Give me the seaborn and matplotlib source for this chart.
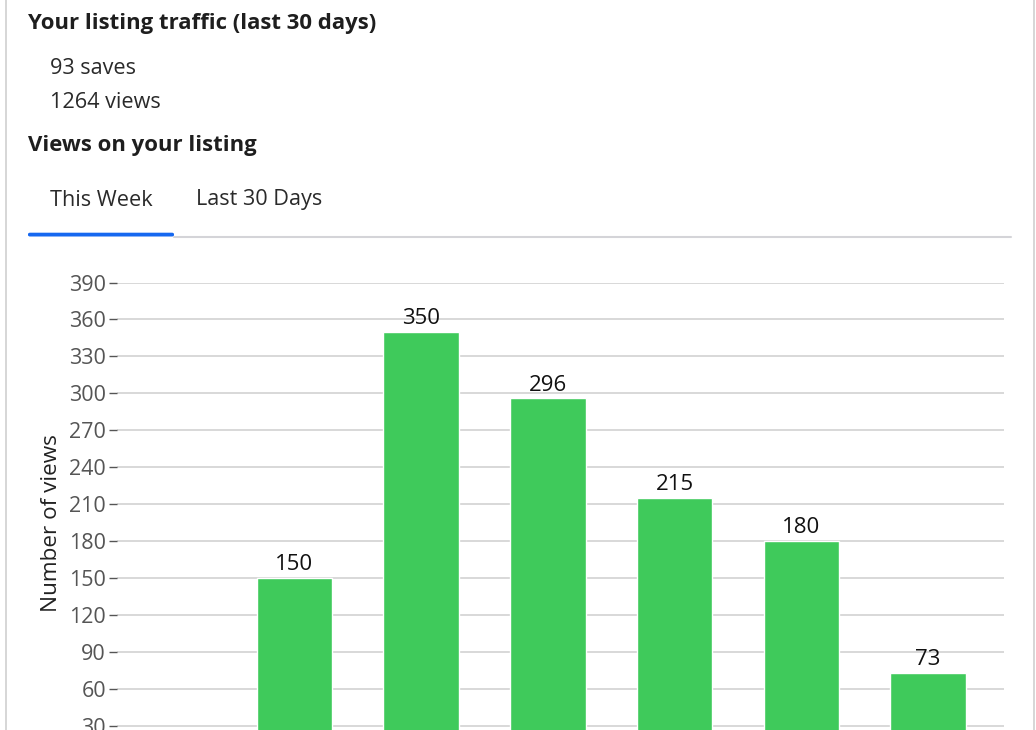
import pandas as pd
import seaborn as sns
import matplotlib.pyplot as plt
from matplotlib.patches import FancyBboxPatch
from matplotlib.lines import Line2D

# DATA ------------------------------------------------------------------------
days = ["Mon", "Tue", "Wed", "Thu", "Fri", "Sat", "Sun"]
views = [0, 150, 350, 296, 215, 180, 73]
y_ticks = [30, 60, 90, 120, 150, 180, 210, 240, 270, 300, 330, 360, 390]
total_saves = 93
total_views = 1264

df = pd.DataFrame({"day": days, "views": views})

# STYLE -----------------------------------------------------------------------
sns.set_style("white")
plt.rcParams["font.family"] = ["Open Sans", "DejaVu Sans"]

W, H = 1036, 730
fig = plt.figure(figsize=(W / 100, H / 100), dpi=100)


def fx(px):
    return px / W


def fy(py):
    return 1 - py / H


# header texts
fig.text(fx(28), fy(24), "Your listing traffic (last 30 days)", fontsize=15.9,
         fontweight="bold", color="#1e1e1e", va="center", ha="left")
fig.text(fx(50), fy(69), f"{total_saves} saves", fontsize=15.6, color="#2a2a2a",
         va="center", ha="left")
fig.text(fx(50), fy(102), f"{total_views} views", fontsize=15.6, color="#2a2a2a",
         va="center", ha="left")
fig.text(fx(28), fy(145), "Views on your listing", fontsize=15.9,
         fontweight="bold", color="#1e1e1e", va="center", ha="left")
fig.text(fx(50), fy(200), "This Week", fontsize=15.6, color="#2a2a2a",
         va="center", ha="left")
fig.text(fx(196), fy(200), "Last 30 Days", fontsize=15.6, color="#2a2a2a",
         va="center", ha="left")

# tab underline
fig.add_artist(Line2D([fx(174), fx(1011)], [fy(236.5), fy(236.5)],
                      color="#d4d4d8", linewidth=1.5))
fig.add_artist(FancyBboxPatch((fx(28), fy(236.5)), fx(146), 3.8 / H,
                              boxstyle="round,pad=0,rounding_size=0.002",
                              facecolor="#1668f0", edgecolor="none"))

# card borders
fig.add_artist(Line2D([fx(5.5), fx(5.5)], [0, 1], color="#d0d0d0", linewidth=1.2))
fig.add_artist(Line2D([fx(1033.5), fx(1033.5)], [0, 1], color="#d0d0d0", linewidth=1.2))

# CHART -----------------------------------------------------------------------
ax_left, ax_right = 117, 1004
ax_top, ax_bottom = 282.5, 763
ax = fig.add_axes([fx(ax_left), fy(ax_bottom), fx(ax_right - ax_left),
                   (ax_bottom - ax_top) / H])

sns.barplot(data=df, x="day", y="views", color="#3fca5b", saturation=1,
            width=0.595, ax=ax, zorder=3)

ax.set_xlim(-0.4, 6.6)
ax.set_ylim(0, 390)
ax.set_yticks(y_ticks)
ax.grid(axis="y", color="#d6d6d6", linewidth=1.3, zorder=0)
ax.set_axisbelow(True)
for s in ax.spines.values():
    s.set_visible(False)
ax.tick_params(axis="y", left=True, length=6, width=1, color="#555555",
               labelcolor="#555555", labelsize=15.5, pad=2)
ax.tick_params(axis="x", bottom=False, labelbottom=False)
ax.set_xlabel("")
ax.set_ylabel("Number of views", fontsize=16.2, color="#222222", labelpad=5)

labels = [str(v) if v > 0 else "" for v in views]
ax.bar_label(ax.containers[0], labels=labels, padding=2, fontsize=16,
             color="#111111")

fig.savefig("out.png", dpi=100)
